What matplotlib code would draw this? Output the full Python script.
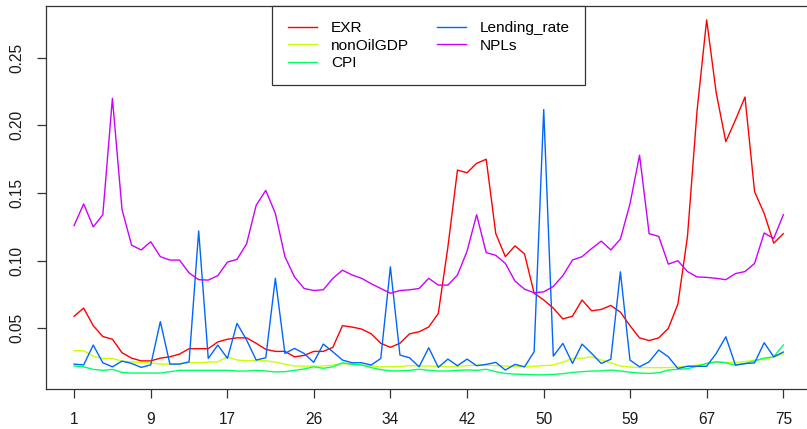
import numpy as np
import matplotlib
matplotlib.use("Agg")
import matplotlib.pyplot as plt

plt.rcParams["font.family"] = ["Liberation Sans", "DejaVu Sans"]

idx = np.arange(1, 76)
tick_pos = [1, 9, 17, 26, 34, 42, 50, 59, 67, 75]

exr = [0.059, 0.065, 0.052, 0.044, 0.042, 0.032, 0.028, 0.026, 0.026, 0.028,
       0.029, 0.031, 0.035, 0.035, 0.035, 0.040, 0.042, 0.043, 0.043, 0.039,
       0.0345, 0.033, 0.033, 0.029, 0.030, 0.033, 0.033, 0.036, 0.052, 0.051,
       0.0495, 0.046, 0.039, 0.036, 0.039, 0.046, 0.0475, 0.051, 0.061, 0.110,
       0.167, 0.165, 0.172, 0.175, 0.120, 0.103, 0.111, 0.105, 0.076, 0.071,
       0.065, 0.057, 0.059, 0.071, 0.063, 0.064, 0.067, 0.062, 0.052, 0.043,
       0.041, 0.043, 0.050, 0.068, 0.118, 0.211, 0.278, 0.224, 0.188, 0.204,
       0.221, 0.151, 0.135, 0.113, 0.120]

non_oil_gdp = [0.0335, 0.0335, 0.0295, 0.0278, 0.0278, 0.0258, 0.0253, 0.0246, 0.0246, 0.0236,
               0.0236, 0.024, 0.0246, 0.0246, 0.025, 0.0253, 0.029, 0.0266, 0.0261, 0.0261,
               0.0261, 0.025, 0.0235, 0.0222, 0.0221, 0.0221, 0.0222, 0.0229, 0.024, 0.0235,
               0.0229, 0.0222, 0.0216, 0.0216, 0.0218, 0.0225, 0.0222, 0.0222, 0.022, 0.0216,
               0.022, 0.0225, 0.0228, 0.023, 0.0225, 0.0222, 0.0218, 0.0216, 0.022, 0.0225,
               0.023, 0.025, 0.0278, 0.028, 0.029, 0.0266, 0.0246, 0.0222, 0.0215, 0.021,
               0.021, 0.021, 0.021, 0.0215, 0.022, 0.0229, 0.024, 0.0253, 0.025, 0.0248,
               0.0255, 0.0266, 0.027, 0.029, 0.031]

cpi = [0.0222, 0.0216, 0.0197, 0.019, 0.0197, 0.0175, 0.017, 0.017, 0.017, 0.017,
       0.018, 0.019, 0.019, 0.019, 0.019, 0.019, 0.019, 0.0185, 0.0185, 0.019,
       0.0185, 0.0178, 0.018, 0.019, 0.020, 0.0216, 0.0205, 0.0216, 0.0246, 0.0235,
       0.023, 0.021, 0.0195, 0.0186, 0.0186, 0.019, 0.0198, 0.019, 0.0185, 0.0185,
       0.019, 0.0193, 0.019, 0.0198, 0.018, 0.0167, 0.0162, 0.016, 0.0157, 0.0157,
       0.016, 0.0165, 0.0175, 0.018, 0.0185, 0.0186, 0.0192, 0.0185, 0.0176, 0.017,
       0.0167, 0.0172, 0.0192, 0.0198, 0.0202, 0.022, 0.0241, 0.0253, 0.0245, 0.0229,
       0.024, 0.026, 0.028, 0.029, 0.0377]

lending_rate = [0.0236, 0.023, 0.0377, 0.0246, 0.0216, 0.0258, 0.0241, 0.0212, 0.023, 0.055,
                0.0236, 0.0236, 0.0253, 0.122, 0.0278, 0.0377, 0.0278, 0.0537, 0.0414, 0.0266,
                0.0283, 0.087, 0.0315, 0.0352, 0.0315, 0.0249, 0.0384, 0.0327, 0.0266, 0.0246,
                0.0246, 0.0229, 0.0278, 0.0955, 0.0303, 0.0283, 0.0216, 0.0357, 0.0212, 0.0273,
                0.0224, 0.0273, 0.0224, 0.0234, 0.0249, 0.0192, 0.0234, 0.0216, 0.0327, 0.2117,
                0.0295, 0.0389, 0.0241, 0.0384, 0.0315, 0.0241, 0.0272, 0.0918, 0.0266, 0.0216,
                0.0253, 0.034, 0.029, 0.0204, 0.022, 0.022, 0.022, 0.0315, 0.0438, 0.0229,
                0.024, 0.0245, 0.0394, 0.029, 0.0325]

npls = [0.126, 0.142, 0.125, 0.134, 0.220, 0.138, 0.1115, 0.108, 0.114, 0.103,
        0.1005, 0.1005, 0.091, 0.086, 0.0857, 0.089, 0.099, 0.101, 0.1125, 0.141,
        0.152, 0.135, 0.103, 0.088, 0.0795, 0.078, 0.0785, 0.087, 0.093, 0.0895,
        0.087, 0.083, 0.0795, 0.076, 0.078, 0.0785, 0.0795, 0.087, 0.082, 0.082,
        0.0894, 0.107, 0.134, 0.106, 0.104, 0.098, 0.085, 0.079, 0.0763, 0.077,
        0.081, 0.089, 0.1005, 0.103, 0.109, 0.1145, 0.108, 0.116, 0.142, 0.178,
        0.120, 0.118, 0.0975, 0.100, 0.092, 0.088, 0.0877, 0.087, 0.086, 0.0905,
        0.092, 0.098, 0.1205, 0.1165, 0.134]

names = ["EXR", "nonOilGDP", "CPI", "Lending_rate", "NPLs"]
series = [exr, non_oil_gdp, cpi, lending_rate, npls]
# R rainbow(5)
colors = ["#FF0000", "#CCFF00", "#00FF66", "#0066FF", "#CC00FF"]

fig = plt.figure(figsize=(8.07, 4.29), dpi=100)
ax = fig.add_axes([45.7 / 807, 1 - 389 / 429, (811.7 - 45.7) / 807, (389 - 5.7) / 429])

for name, vals, col in zip(names, series, colors):
    ax.plot(idx, vals, color=col, lw=1.0, label=name)

# R style axis range (4% padding)
all_vals = np.concatenate([np.array(s) for s in series])
lo, hi = all_vals.min(), all_vals.max()
pad = (hi - lo) * 0.04
ax.set_ylim(lo - pad, hi + pad)
ax.set_xlim(1 - 74 * 0.04, 75 + 74 * 0.04)

ax.set_xticks(tick_pos)
ax.set_xticklabels([str(t) for t in tick_pos])
ax.set_yticks([0.05, 0.10, 0.15, 0.20, 0.25])
ax.set_yticklabels(["0.05", "0.10", "0.15", "0.20", "0.25"], rotation=90, va="center")
ax.tick_params(axis="both", labelsize=11.2, length=6.8, width=0.9, color="#333333",
               labelcolor="#1a1a1a")
ax.tick_params(axis="x", pad=9.5)
ax.tick_params(axis="y", pad=8.5)

for sp in ax.spines.values():
    sp.set_linewidth(0.9)
    sp.set_color("#333333")

leg = ax.legend(ncol=2, loc="upper center", bbox_to_anchor=(0.5, 1.0), borderaxespad=0,
                fontsize=11.1, handlelength=1.9, handletextpad=0.9, columnspacing=1.8,
                labelspacing=0.22, borderpad=1.0, fancybox=False, framealpha=1,
                edgecolor="#333333")
leg.get_frame().set_linewidth(0.9)

fig.savefig("out.png", dpi=100)
